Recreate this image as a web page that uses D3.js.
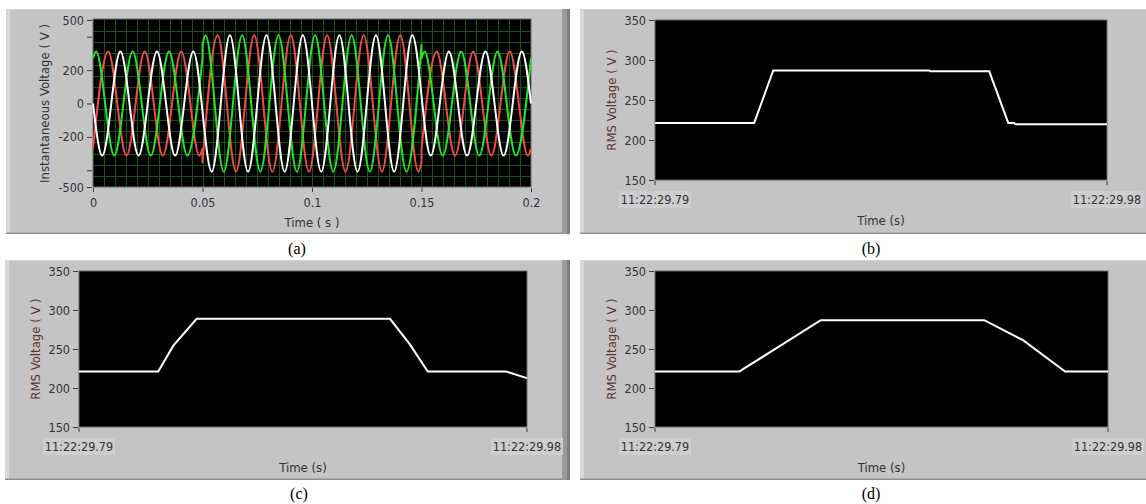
<!DOCTYPE html>
<html>
<head>
<meta charset="utf-8">
<script src="https://cdn.jsdelivr.net/npm/d3@7/dist/d3.min.js"></script>
<style>
  body { margin: 0; background: #fff; }
  svg text { font-family: "DejaVu Sans Condensed", "DejaVu Sans", sans-serif; }
  .cap { font-family: "Liberation Serif", "Times New Roman", serif; }
</style>
</head>
<body>
<svg id="chart" width="1146" height="504"></svg>
<script>
// ---- data ----
const instTicks = [-500, -400, -200, 0, 200, 400, 500];
const instLabels = ["-500", "", "-200", "0", "200", "", "500"];
const timeTicks = [0, 0.05, 0.1, 0.15, 0.2];
const timeLabels = ["0", "0.05", "0.1", "0.15", "0.2"];
const rmsTicks = [150, 200, 250, 300, 350];
const clockTicks = [0, 0.19];
const clockLabels = ["11:22:29.79", "11:22:29.98"];

// extremes of each phase (t in s, volts); a repeated t marks the sag/swell step
const phaseWhite = [[0,0],[0.0042,-312],[0.0125,312],[0.0208,-312],[0.0292,312],[0.0375,-312],[0.0458,312],
  [0.0542,-408],[0.0625,408],[0.0708,-408],[0.0792,408],[0.0875,-408],[0.0958,408],[0.1042,-408],[0.1125,408],
  [0.1208,-408],[0.1292,408],[0.1375,-408],[0.1458,408],
  [0.1542,-312],[0.1625,312],[0.1708,-312],[0.1792,312],[0.1875,-312],[0.1958,312],[0.2,0]];
const phaseGreen = [[0,270],[0.0014,312],[0.0097,-312],[0.0181,312],[0.0264,-312],[0.0347,312],[0.0431,-312],[0.05,270],
  [0.05,352],[0.0514,408],[0.0597,-408],[0.0681,408],[0.0764,-408],[0.0847,408],[0.0931,-408],[0.1014,408],
  [0.1097,-408],[0.1181,408],[0.1264,-408],[0.1347,408],[0.1431,-408],[0.15,352],
  [0.15,270],[0.1514,312],[0.1597,-312],[0.1681,312],[0.1764,-312],[0.1847,312],[0.1931,-312],[0.2,270]];
const phaseRed = [[0,-270],[0.0069,312],[0.0153,-312],[0.0236,312],[0.0319,-312],[0.0403,312],[0.0486,-312],[0.05,-270],
  [0.05,-352],[0.0569,408],[0.0653,-408],[0.0736,408],[0.0819,-408],[0.0903,408],[0.0986,-408],[0.1069,408],
  [0.1153,-408],[0.1236,408],[0.1319,-408],[0.1403,408],[0.1486,-408],[0.15,-352],
  [0.15,-270],[0.1569,312],[0.1653,-312],[0.1736,312],[0.1819,-312],[0.1903,312],[0.1986,-312],[0.2,-270]];

// RMS traces, t = seconds after 11:22:29.79
const rmsB = [[0,221.4],[0.0417,221.4],[0.0497,287],[0.1153,287],[0.1157,285.8],[0.1405,285.8],
  [0.1485,221.4],[0.151,221.4],[0.1515,219.6],[0.19,219.6]];
const rmsC = [[0,221.2],[0.0336,221.2],[0.04,254.3],[0.0499,288.7],[0.1319,288.7],[0.1404,255.6],
  [0.1479,221.2],[0.1811,221.2],[0.19,212.7]];
const rmsD = [[0,221.2],[0.0354,221.2],[0.0695,286.9],[0.1381,286.9],[0.1545,261.1],[0.172,221.2],[0.19,221.2]];

const svg = d3.select("#chart");
const inkCol = "#30323c";

function drawPanel(x, y, w, h) {
  svg.append("rect").attr("x", x).attr("y", y).attr("width", w).attr("height", h).attr("fill", "#c4c4c4");
  svg.append("rect").attr("x", x).attr("y", y).attr("width", 4).attr("height", h).attr("fill", "#d9d9d9");
  svg.append("rect").attr("x", x).attr("y", y).attr("width", w).attr("height", 1).attr("fill", "#d2d2d2");
  svg.append("rect").attr("x", x).attr("y", y + h - 1.5).attr("width", w).attr("height", 1.5).attr("fill", "#8e8e8e");
  if (x + w < 1140) {
    svg.append("rect").attr("x", x + w).attr("y", y).attr("width", 8).attr("height", h).attr("fill", "#9a9a9a");
    svg.append("rect").attr("x", x + w + 5).attr("y", y).attr("width", 3).attr("height", h).attr("fill", "#7e7e7e");
  }
}

function yAxis(g, scale, ticks, labels) {
  const ax = d3.axisLeft(scale).tickValues(ticks).tickSize(5).tickPadding(3)
    .tickFormat((d, i) => labels ? labels[i] : d);
  const a = g.append("g").call(ax);
  a.select(".domain").remove();
  a.selectAll("line").attr("stroke", "#3a3a3a");
  a.selectAll("text").attr("fill", inkCol).style("font-size", "12.5px");
  return a;
}

function drawWave(g, pts, x, y, col) {
  const parts = [];
  let cur = [pts[0]];
  for (let i = 1; i < pts.length; i++) {
    if (pts[i][0] === pts[i - 1][0]) { parts.push(cur); cur = [pts[i]]; }
    else cur.push(pts[i]);
  }
  parts.push(cur);
  const line = d3.line().x(d => x(d[0])).y(d => y(d[1])).curve(d3.curveMonotoneX);
  const d = parts.map((p, i) => i ? line(p).replace(/^M/, "L") : line(p)).join("");
  g.append("path").attr("d", d).attr("fill", "none").attr("stroke", col)
    .attr("stroke-width", 2).attr("stroke-linejoin", "round");
}

// ---- (a) instantaneous voltage ----
drawPanel(6, 9, 556, 225);
{
  const L = 93, R = 531, T = 20, B = 187;
  const x = d3.scaleLinear().domain([0, 0.2]).range([L, R]);
  const y = d3.scaleLinear().domain([-500, 500]).range([B, T]);
  const g = svg.append("g");
  g.append("rect").attr("x", L).attr("y", T - 1).attr("width", R - L).attr("height", B - T + 1)
    .attr("fill", "#000").attr("stroke", "#6a6a6a").attr("stroke-width", 1);
  const grid = g.append("g").attr("stroke", "#175217").attr("stroke-width", 1);
  grid.selectAll("line.v").data(d3.range(1, 40)).join("line")
    .attr("x1", i => Math.round(x(i * 0.005)) + 0.5).attr("x2", i => Math.round(x(i * 0.005)) + 0.5)
    .attr("y1", T).attr("y2", B);
  grid.selectAll("line.h").data(d3.range(1, 15)).join("line")
    .attr("y1", i => Math.round(y(-500 + i * 1000 / 15)) + 0.5).attr("y2", i => Math.round(y(-500 + i * 1000 / 15)) + 0.5)
    .attr("x1", L).attr("x2", R);
  const waves = g.append("g");
  drawWave(waves, phaseRed, x, y, "#f24a4a");
  drawWave(waves, phaseGreen, x, y, "#22e622");
  drawWave(waves, phaseWhite, x, y, "#ffffff");

  yAxis(g.append("g").attr("transform", `translate(${L - 1},0)`), y, instTicks, instLabels);
  const xa = g.append("g").attr("transform", `translate(0,${B + 1})`)
    .call(d3.axisBottom(x).tickValues(timeTicks).tickSize(4).tickPadding(6).tickFormat((d, i) => timeLabels[i]));
  xa.select(".domain").remove();
  xa.selectAll("line").attr("stroke", "#3a3a3a");
  xa.selectAll("text").attr("fill", inkCol).style("font-size", "12.5px");

  svg.append("text").attr("x", (L + R) / 2).attr("y", 227).attr("text-anchor", "middle")
    .attr("fill", inkCol).style("font-size", "13px").text("Time ( s )");
  svg.append("text").attr("transform", `translate(49,${(T + B) / 2}) rotate(-90)`).attr("text-anchor", "middle")
    .attr("fill", inkCol).style("font-size", "13px").text("Instantaneous Voltage ( V )");
}

// ---- (b)(c)(d) RMS voltage ----
function rmsPanel(box, plot, data) {
  drawPanel(box.x, box.y, box.w, box.h);
  const { L, R, T, B } = plot;
  const x = d3.scaleLinear().domain([0, 0.19]).range([L, R]);
  const y = d3.scaleLinear().domain([150, 350]).range([B, T]);
  const g = svg.append("g");
  g.append("rect").attr("x", L).attr("y", T).attr("width", R - L).attr("height", B - T)
    .attr("fill", "#000").attr("stroke", "#6a6a6a").attr("stroke-width", 1);
  g.append("path").datum(data)
    .attr("d", d3.line().x(d => x(d[0])).y(d => y(d[1])))
    .attr("fill", "none").attr("stroke", "#fff").attr("stroke-width", 2);

  yAxis(g.append("g").attr("transform", `translate(${L - 1},0)`), y, rmsTicks, null);

  // clock labels with their light boxes
  clockTicks.forEach((t, i) => {
    const cx = x(t);
    g.append("line").attr("x1", cx).attr("x2", cx).attr("y1", B + 1).attr("y2", B + 5).attr("stroke", "#3a3a3a");
    g.append("rect").attr("x", cx - 36).attr("y", B + 11).attr("width", 72).attr("height", 17).attr("fill", "#cdcdcd");
    g.append("text").attr("x", cx).attr("y", B + 24).attr("text-anchor", "middle")
      .attr("fill", inkCol).style("font-size", "12.5px").text(clockLabels[i]);
  });
  svg.append("text").attr("x", (L + R) / 2).attr("y", B + 45).attr("text-anchor", "middle")
    .attr("fill", inkCol).style("font-size", "13px").text("Time (s)");
  svg.append("text").attr("transform", `translate(${L - 39},${(T + B) / 2}) rotate(-90)`)
    .attr("text-anchor", "middle").attr("fill", "#5c3434").style("font-size", "13px").text("RMS Voltage ( V )");
}

rmsPanel({ x: 580, y: 9, w: 566, h: 225 }, { L: 655, R: 1107, T: 20, B: 180 }, rmsB);
rmsPanel({ x: 5, y: 260, w: 557, h: 220 }, { L: 79, R: 527, T: 271, B: 427 }, rmsC);
rmsPanel({ x: 580, y: 260, w: 566, h: 220 }, { L: 655, R: 1108, T: 271, B: 427 }, rmsD);

// captions
[["(a)", 297, 254], ["(b)", 871, 254], ["(c)", 299, 499], ["(d)", 871, 499]].forEach(c => {
  svg.append("text").attr("class", "cap").attr("x", c[1]).attr("y", c[2]).attr("text-anchor", "middle")
    .attr("fill", "#000").style("font-size", "16px").text(c[0]);
});
</script>
</body>
</html>
